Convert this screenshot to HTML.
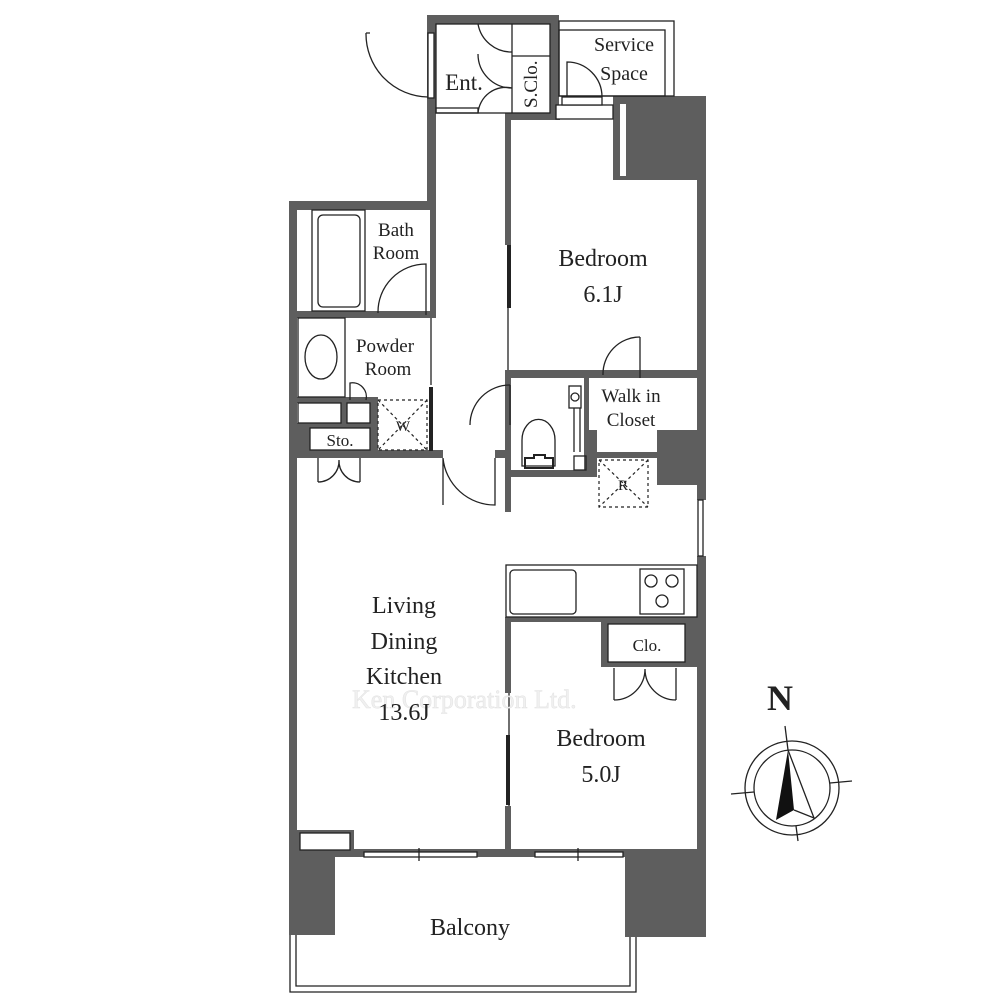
<!DOCTYPE html>
<html><head><meta charset="utf-8"><style>
html,body{margin:0;padding:0;background:#fff}
svg{display:block}
text{font-family:"Liberation Serif",serif;fill:#222}
</style></head><body>
<svg width="1000" height="1000" viewBox="0 0 1000 1000" xmlns="http://www.w3.org/2000/svg">
<g fill="#5e5e5e">
<rect x="427" y="15" width="132" height="9"/>
<rect x="427" y="15" width="9" height="195"/>
<rect x="550" y="15" width="9" height="98"/>
<rect x="289" y="201" width="147" height="9"/>
<rect x="289" y="201" width="8" height="656"/>
<rect x="505" y="113" width="6" height="132"/>
<rect x="505" y="372" width="6" height="140"/>
<rect x="505" y="113" width="55" height="7"/>
<rect x="613" y="96" width="93" height="84"/>
<rect x="697" y="96" width="9" height="404"/>
<rect x="697" y="556" width="9" height="300"/>
<rect x="657" y="430" width="49" height="55"/>
<rect x="505" y="370" width="192" height="8"/>
<rect x="511" y="470" width="80" height="7"/>
<rect x="584" y="378" width="5" height="92"/>
<rect x="589" y="430" width="8" height="47"/>
<rect x="589" y="452" width="68" height="6"/>
<rect x="430" y="201" width="6" height="116"/>
<rect x="297" y="311" width="139" height="7"/>
<rect x="297" y="397" width="80" height="6"/>
<rect x="297" y="423" width="80" height="5"/>
<rect x="370" y="397" width="8" height="60"/>
<rect x="297" y="428" width="13" height="22"/>
<rect x="341" y="397" width="6" height="31"/>
<rect x="297" y="450" width="146" height="8"/>
<rect x="495" y="450" width="16" height="8"/>
<rect x="505" y="617" width="192" height="5"/>
<rect x="505" y="617" width="6" height="76"/>
<rect x="505" y="806" width="6" height="45"/>
<rect x="601" y="622" width="96" height="45"/>
<rect x="297" y="849" width="409" height="8"/>
<rect x="297" y="830" width="57" height="19"/>
<rect x="289" y="857" width="46" height="78"/>
<rect x="625" y="857" width="81" height="80"/>
</g>
<g fill="#fff" stroke="#222" stroke-width="1.3">
<rect x="428" y="33" width="6" height="65"/>
<rect x="300" y="833" width="50" height="17"/>
<rect x="608" y="624" width="77" height="38"/>
<rect x="298" y="403" width="43" height="20"/>
<rect x="347" y="403" width="23" height="20"/>
<rect x="310" y="428" width="60" height="22"/>
<rect x="620" y="104" width="6" height="72" stroke="none"/>
<rect x="364" y="852" width="113" height="5"/>
<rect x="535" y="852" width="88" height="5"/>
<rect x="698" y="500" width="5" height="56"/>
<rect x="436" y="108" width="42" height="5"/>
<rect x="556" y="105" width="57" height="14"/>
<rect x="562" y="97" width="40" height="8"/>
</g>
<g fill="none" stroke="#222" stroke-width="1.3">
<line x1="419" y1="848" x2="419" y2="861"/><line x1="578" y1="848" x2="578" y2="861"/>
<rect x="436" y="24" width="114" height="89"/>
<line x1="512" y1="24" x2="512" y2="113"/>
<line x1="512" y1="56" x2="550" y2="56"/>
<path d="M366 33 L370 33 M366 33 A63 63 0 0 0 428 97"/>
<path d="M512 52 A34 34 0 0 1 478 24 M512 88 A34 34 0 0 1 478 54 M512 88 A28 28 0 0 0 478 113"/>
<rect x="559" y="21" width="115" height="75"/>
<rect x="559" y="30" width="106" height="66"/>
<path d="M567 97 L567 62 A35 35 0 0 1 602 97"/>
<rect x="312" y="210" width="53" height="101"/>
<rect x="318" y="215" width="42" height="92" rx="5"/>
<path d="M426 315 L426 264 A48 48 0 0 0 378 313"/>
<rect x="298" y="318" width="47" height="79"/>
<ellipse cx="321" cy="357" rx="16" ry="22"/>
<path d="M350 400 L350 383 A14 14 0 0 1 366 400"/>
<line x1="431" y1="318" x2="431" y2="385"/>
<line x1="508" y1="308" x2="508" y2="370"/>
<path d="M510 385 A40 40 0 0 0 470 425"/><line x1="510" y1="385" x2="510" y2="425"/>
<path d="M640 337 A37 37 0 0 0 603 375"/><line x1="640" y1="337" x2="640" y2="378"/>
<path d="M443 458 L443 505 M495 458 L495 505 A52 52 0 0 1 443 458"/>
<path d="M318 458 L318 482 M360 458 L360 482 M318 482 A21 21 0 0 0 339 460 M360 482 A21 21 0 0 1 339 460"/>
<path d="M614 668 L614 700 M676 668 L676 700 M614 700 A31 31 0 0 0 645 669 M676 700 A31 31 0 0 1 645 669"/>
<rect x="569" y="386" width="12" height="22"/><circle cx="575" cy="397" r="4"/>
<line x1="574" y1="408" x2="574" y2="452"/><line x1="580" y1="408" x2="580" y2="452"/>
<path d="M522 466 L522 440 A16 20 0 0 1 555 440 L555 466 Z"/>
<path d="M525 468 L525 458 L534 458 L534 455 L545 455 L545 458 L553 458 L553 468 Z" stroke-width="2"/>
<rect x="574" y="456" width="12" height="14"/>
<rect x="506" y="565" width="191" height="52"/>
<rect x="510" y="570" width="66" height="44" rx="4"/>
<rect x="640" y="569" width="44" height="45"/>
<circle cx="651" cy="581" r="6"/><circle cx="672" cy="581" r="6"/><circle cx="662" cy="601" r="6"/>
<path d="M290 935 L290 992 L636 992 L636 937"/>
<path d="M296 935 L296 986 L630 986 L630 937"/>
<circle cx="792" cy="788" r="47"/><circle cx="792" cy="788" r="38"/>
<line x1="785" y1="726" x2="788" y2="750"/><line x1="796" y1="826" x2="798" y2="841"/>
<line x1="731" y1="794" x2="754" y2="792"/><line x1="830" y1="783" x2="852" y2="781"/>
<path d="M788 750 L814 818 L794 810"/>
</g>
<path d="M788 750 L776 820 L794 810 Z" fill="#111"/>
<g fill="none" stroke="#222" stroke-width="1.2" stroke-dasharray="3,3">
<rect x="378" y="400" width="49" height="50"/><path d="M378 400 L427 450 M427 400 L378 450"/>
<rect x="599" y="460" width="49" height="47"/><path d="M599 460 L648 507 M648 460 L599 507"/>
</g>
<g fill="#222">
<rect x="507" y="245" width="4" height="63"/>
<rect x="429" y="387" width="4" height="64"/>
<rect x="506" y="735" width="4" height="70"/>
</g>
<line x1="509" y1="693" x2="509" y2="806" stroke="#222" stroke-width="1.3"/>
<text x="352" y="708" font-size="26" style="fill:#f0f0f0" stroke="#e2e2e2" stroke-width="0.5" font-family="Liberation Sans,sans-serif">Ken Corporation Ltd.</text>
<g text-anchor="middle">
<text x="464" y="90" font-size="23">Ent.</text>
<text x="624" y="51" font-size="20">Service</text>
<text x="624" y="80" font-size="20">Space</text>
<text x="396" y="236" font-size="19">Bath</text>
<text x="396" y="259" font-size="19">Room</text>
<text x="385" y="352" font-size="19">Powder</text>
<text x="388" y="375" font-size="19">Room</text>
<text x="631" y="402" font-size="19">Walk in</text>
<text x="631" y="426" font-size="19">Closet</text>
<text x="603" y="266" font-size="24">Bedroom</text>
<text x="603" y="302" font-size="24">6.1J</text>
<text x="404" y="613" font-size="24">Living</text>
<text x="404" y="649" font-size="24">Dining</text>
<text x="404" y="684" font-size="24">Kitchen</text>
<text x="404" y="720" font-size="24">13.6J</text>
<text x="601" y="746" font-size="24">Bedroom</text>
<text x="601" y="782" font-size="24">5.0J</text>
<text x="470" y="935" font-size="24">Balcony</text>
<text x="340" y="446" font-size="17">Sto.</text>
<text x="647" y="651" font-size="17">Clo.</text>
<text x="403" y="431" font-size="15">W</text>
<text x="623" y="490" font-size="15">R</text>
<text x="780" y="710" font-size="36" font-weight="bold">N</text>
</g>
<text transform="translate(537,108) rotate(-90)" font-size="19">S.Clo.</text>
</svg>
</body></html>
